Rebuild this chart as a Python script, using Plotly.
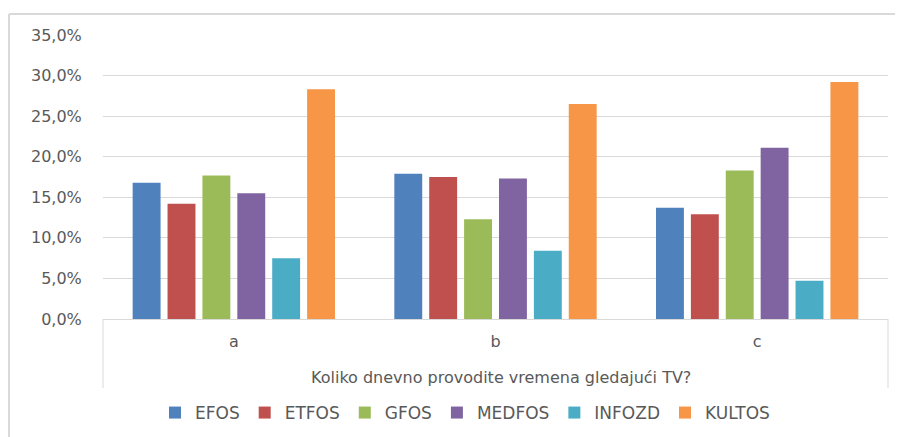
import plotly.graph_objects as go

categories = ["a", "b", "c"]
series_names = ["EFOS", "ETFOS", "GFOS", "MEDFOS", "INFOZD", "KULTOS"]
efos = [16.8, 17.9, 13.7]
etfos = [14.2, 17.5, 12.9]
gfos = [17.7, 12.3, 18.3]
medfos = [15.5, 17.3, 21.1]
infozd = [7.5, 8.4, 4.7]
kultos = [28.3, 26.5, 29.2]
y_ticks = [0, 5, 10, 15, 20, 25, 30, 35]
y_tick_labels = ["0,0%", "5,0%", "10,0%", "15,0%", "20,0%", "25,0%", "30,0%", "35,0%"]
x_title = "Koliko dnevno provodite vremena gledajući TV?"

colors = ["#4F81BD", "#C0504D", "#9BBB59", "#8064A2", "#4BACC6", "#F79646"]
values = [efos, etfos, gfos, medfos, infozd, kultos]

FONT = "DejaVu Sans"
TXT = "#595959"
GRID = "#d9d9d9"

fig = go.Figure()
for name, vals, col in zip(series_names, values, colors):
    fig.add_trace(go.Bar(x=categories, y=vals, name=name,
                         marker=dict(color=col, line=dict(width=0))))

# the page body adds an 8px offset; work in screen pixels and convert
OFF = 8
W, H = 903, 437
SX0, SX1, SY0, SY1 = 103, 888, 35, 319
L, R, T, B = SX0 - OFF, W - (SX1 - OFF), SY0 - OFF, H - (SY1 - OFF)
pw, ph = SX1 - SX0, SY1 - SY0

def px(xs):
    return (xs - SX0) / pw

def py(ys):
    return 1 - (ys - SY0) / ph

shapes = [
    dict(type="line", xref="paper", yref="paper", x0=px(9), x1=px(9), y0=py(14), y1=py(450),
         line=dict(color=GRID, width=2)),
    dict(type="line", xref="paper", yref="paper", x0=px(9), x1=px(920), y0=py(14), y1=py(14),
         line=dict(color=GRID, width=2)),
    dict(type="line", xref="paper", yref="paper", x0=0, x1=0, y0=0, y1=py(388),
         line=dict(color=GRID, width=1)),
    dict(type="line", xref="paper", yref="paper", x0=1, x1=1, y0=0, y1=py(388),
         line=dict(color=GRID, width=1)),
]

fig.update_layout(
    width=W, height=H,
    margin=dict(l=L, r=R, t=T, b=B, pad=0, autoexpand=False),
    paper_bgcolor="white", plot_bgcolor="white",
    font=dict(family=FONT, size=16, color=TXT),
    barmode="group", bargap=0.2, bargroupgap=0.2,
    showlegend=True,
    legend=dict(orientation="h", x=px(465), xanchor="center", y=py(413), yanchor="middle",
                font=dict(family=FONT, size=17, color=TXT), itemwidth=30,
                traceorder="normal"),
    shapes=shapes,
    annotations=[dict(text=x_title, xref="paper", yref="paper", x=px(501), y=py(377),
                      xanchor="center", yanchor="middle", showarrow=False,
                      font=dict(family=FONT, size=16, color=TXT))],
)
fig.update_yaxes(range=[0, 35], tickvals=y_ticks, ticktext=y_tick_labels,
                 showgrid=True, gridcolor=GRID, gridwidth=1, zeroline=False,
                 showline=False, ticks="outside", ticklen=17, tickcolor="rgba(0,0,0,0)",
                 tickfont=dict(family=FONT, size=16, color=TXT), fixedrange=True,
                 automargin=False)
fig.update_xaxes(showline=True, linecolor=GRID, linewidth=1, showgrid=False,
                 ticks="outside", ticklen=8, tickcolor="rgba(0,0,0,0)",
                 tickfont=dict(family=FONT, size=16, color=TXT), fixedrange=True,
                 automargin=False)

fig.write_html("out.html")
